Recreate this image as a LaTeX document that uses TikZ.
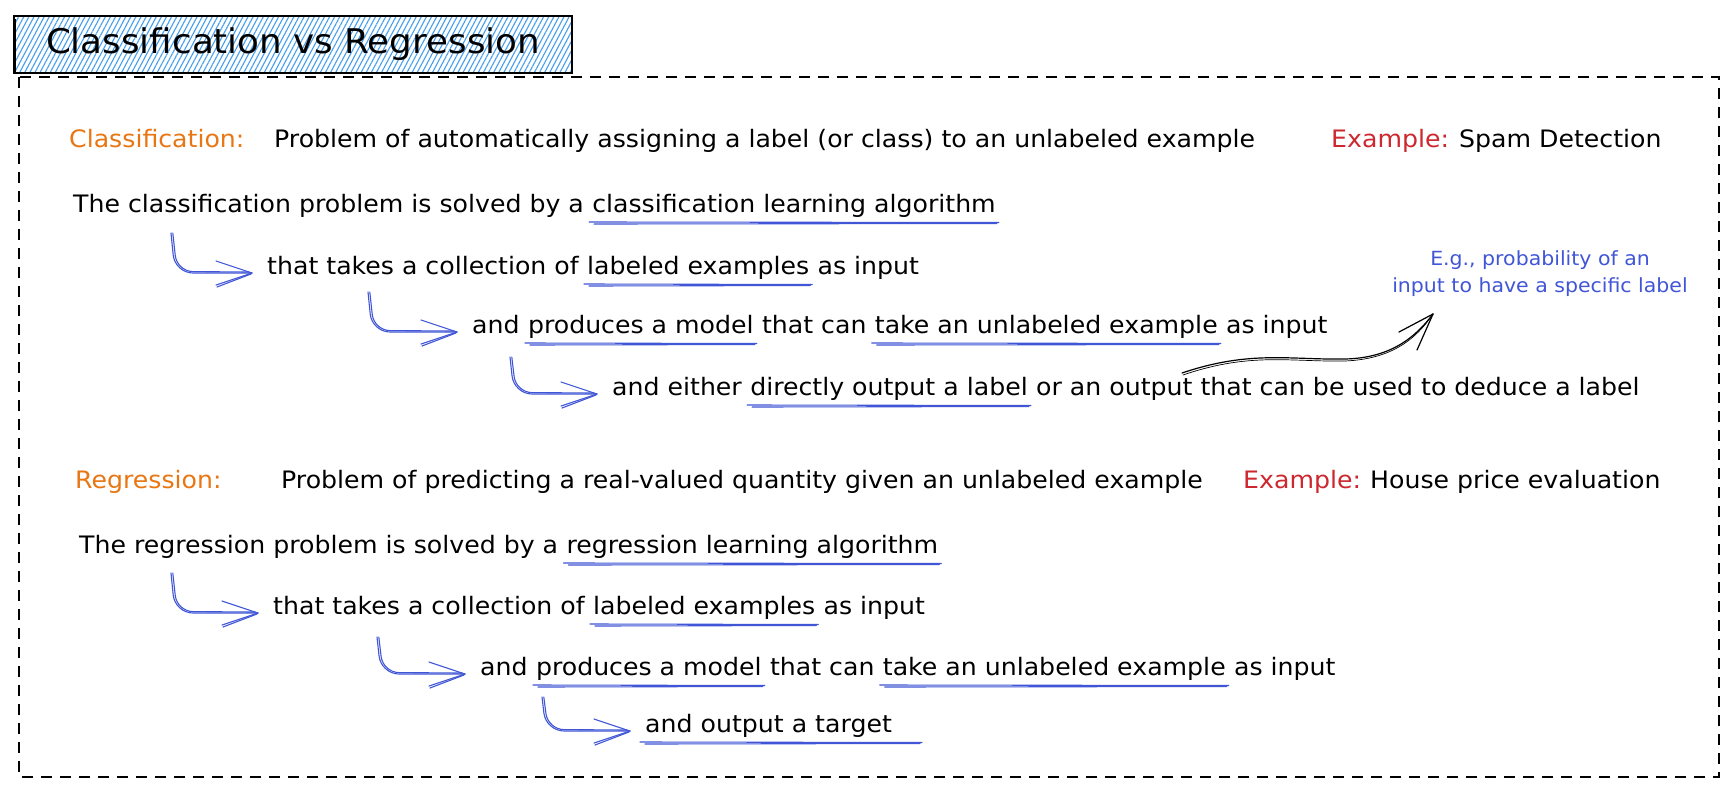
\documentclass[tikz,border=0pt]{standalone}
\usepackage{fontspec}
\setmainfont{DejaVu Sans}[FakeStretch=1.05]
\usetikzlibrary{patterns.meta,calc}
\definecolor{ublue}{RGB}{64,86,214}
\definecolor{hatchc}{RGB}{70,158,238}
\definecolor{lorange}{RGB}{232,118,18}
\definecolor{lred}{RGB}{205,40,48}
\def\ws{8.0pt}
\newcommand\hookarr[2]{%
  \coordinate (tip#2) at ([shift={(-15pt,1pt)}]#2.base west);
  \draw[conn, rounded corners=18pt] (#1) -- ($(#1 |- tip#2)+(4,0)$) -- (tip#2);
  \draw[conn, rounded corners=16pt] ($(#1)+(1.8,0)$) -- ($(#1 |- tip#2)+(6,-1.5)$) -- ($(tip#2)+(-3,-1)$);
  \draw[conn] (tip#2) -- ++(-36,-12);
  \draw[conn] (tip#2) -- ++(-36,12);
  \draw[conn] ($(tip#2)+(-1,1)$) -- ++(-34,13);
}
\newcommand\ulin[3]{%
  \draw[uln] ([xshift=-#2pt, yshift=-10pt]#1.base west) -- ([xshift=#3pt, yshift=-10.5pt]#1.base east);
  \draw[uln] ([xshift=-#2pt+5pt, yshift=-12pt]#1.base west) -- ([xshift=#3pt-2pt, yshift=-11.5pt]#1.base east);
}
\begin{document}
\begin{tikzpicture}[x=1pt,y=-1pt,
  txt/.style={anchor=base west, inner sep=0pt, font=\fontsize{24}{29}\selectfont},
  ann/.style={anchor=base, inner sep=0pt, text=ublue, font=\fontsize{19.5}{23}\selectfont},
  conn/.style={draw=ublue, line width=1.1pt, line cap=round, line join=round},
  uln/.style={draw=ublue, line width=1.1pt, line cap=round},
  blk/.style={draw=black, line width=1.2pt, line cap=round, line join=round},
  frame/.style={draw=black, line width=1.6pt, dash pattern=on 11pt off 8pt},
  titlebox/.style={draw=black, line width=1.4pt, inner sep=0pt,
    pattern={Lines[angle=62,distance=4.5pt,line width=1.1pt]}, pattern color=hatchc,
    font=\fontsize{34}{39}\selectfont}]
\fill[white] (0,0) rectangle (1729,790);
\useasboundingbox (0,0) rectangle (1729,790);

% frame and title
\draw[frame] (19,77) rectangle (1719,777);
\node[titlebox, minimum width=558pt, minimum height=57pt] (title) at (293,44.5) {Classification vs Regression};
\draw[black, line width=0.8pt] (15,19) -- (15,72);

% ---------- Classification ----------
\node[txt, text=lorange] (c1lab) at (69,147) {Classification:};
\node[txt] (c1def) at (274,147) {Problem of automatically assigning a label (or class) to an unlabeled example};
\node[txt, text=lred] (c1ex) at (1331,147) {Example:};
\node[txt] (c1exv) at (1459,147) {Spam Detection};

\node[txt] (c2a) at (73,212) {The classification problem is solved by a};
\node[txt] (c2b) at ([xshift=\ws]c2a.base east) {classification learning algorithm};

\node[txt] (c3a) at (267,274) {that takes a collection of};
\node[txt] (c3b) at ([xshift=\ws]c3a.base east) {labeled examples};
\node[txt] (c3c) at ([xshift=\ws]c3b.base east) {as input};

\node[txt] (c4a) at (472,333) {and};
\node[txt] (c4b) at ([xshift=\ws]c4a.base east) {produces a model};
\node[txt] (c4c) at ([xshift=\ws]c4b.base east) {that can};
\node[txt] (c4d) at ([xshift=\ws]c4c.base east) {take an unlabeled example};
\node[txt] (c4e) at ([xshift=\ws]c4d.base east) {as input};

\node[txt] (c5a) at (612,395) {and either};
\node[txt] (c5b) at ([xshift=\ws]c5a.base east) {directly output a label};
\node[txt] (c5c) at ([xshift=\ws]c5b.base east) {or an output that can be used to deduce a label};

\node[ann] (ann1) at (1540,265) {E.g., probability of an};
\node[ann] (ann2) at (1540,292) {input to have a specific label};

\ulin{c2b}{3}{3}
\ulin{c3b}{3}{3}
\ulin{c4b}{3}{3}
\ulin{c4d}{3}{3}
\ulin{c5b}{3}{3}

\coordinate (a1s) at (171,233);
\coordinate (a2s) at (368,292);
\coordinate (a3s) at (510,357);
\hookarr{a1s}{c3a}
\hookarr{a2s}{c4a}
\hookarr{a3s}{c5a}

% black curved arrow
\coordinate (bs) at (1182,373);
\coordinate (bt) at (1433,314);
\draw[blk] (bs) .. controls (1250,350) and (1290,360) .. (1345,359) .. controls (1390,358) and (1415,338) .. (bt);
\draw[blk, line width=0.7pt] ($(bs)+(1,2)$) .. controls (1250,352) and (1290,362) .. (1345,361) .. controls (1392,359) and (1416,339) .. (bt);
\draw[blk] (bt) -- ++(-34,18);
\draw[blk] (bt) -- ++(-16,36);

% ---------- Regression ----------
\node[txt, text=lorange] (r1lab) at (75,488) {Regression:};
\node[txt] (r1def) at (281,488) {Problem of predicting a real-valued quantity given an unlabeled example};
\node[txt, text=lred] (r1ex) at (1243,488) {Example:};
\node[txt] (r1exv) at (1370,488) {House price evaluation};

\node[txt] (r2a) at (79,553) {The regression problem is solved by a};
\node[txt] (r2b) at ([xshift=\ws]r2a.base east) {regression learning algorithm};

\node[txt] (r3a) at (273,614) {that takes a collection of};
\node[txt] (r3b) at ([xshift=\ws]r3a.base east) {labeled examples};
\node[txt] (r3c) at ([xshift=\ws]r3b.base east) {as input};

\node[txt] (r4a) at (480,675) {and};
\node[txt] (r4b) at ([xshift=\ws]r4a.base east) {produces a model};
\node[txt] (r4c) at ([xshift=\ws]r4b.base east) {that can};
\node[txt] (r4d) at ([xshift=\ws]r4c.base east) {take an unlabeled example};
\node[txt] (r4e) at ([xshift=\ws]r4d.base east) {as input};

\node[txt] (r5) at (645,732) {and output a target};

\ulin{r2b}{3}{3}
\ulin{r3b}{3}{3}
\ulin{r4b}{3}{3}
\ulin{r4d}{3}{3}
\ulin{r5}{5}{30}

\coordinate (a4s) at (171,573);
\coordinate (a5s) at (377,637);
\coordinate (a6s) at (542,697);
\hookarr{a4s}{r3a}
\hookarr{a5s}{r4a}
\hookarr{a6s}{r5}
\end{tikzpicture}
\end{document}
